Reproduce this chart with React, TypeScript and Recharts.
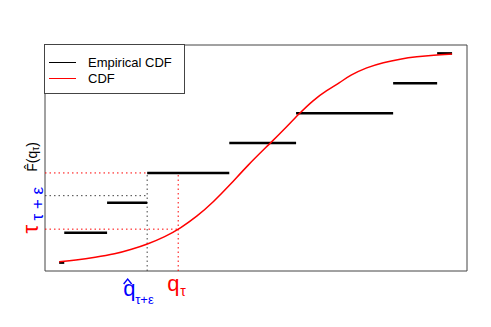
import { LineChart, Line, XAxis, YAxis, ReferenceLine, ReferenceArea } from 'recharts';

// empirical CDF: jump locations, levels are k/7
const jumpX = [0.13, 1.22, 2.24, 4.33, 6.03, 8.5, 9.62];
const ecdfStart = 0;
const ecdfEnd = 10;
const nObs = 7;

// theoretical CDF
const cdfX = [0, 0.41, 0.92, 1.42, 1.85, 2.23, 2.7, 3.08, 3.5, 3.93, 4.35, 4.78, 5.37, 5.79, 6.13, 6.47, 6.81, 7.15, 7.4, 7.83, 8.25, 8.68, 9.1, 9.53, 10];
const cdfY = [0.004, 0.012, 0.025, 0.041, 0.064, 0.087, 0.124, 0.164, 0.219, 0.291, 0.371, 0.462, 0.57, 0.649, 0.716, 0.777, 0.823, 0.861, 0.895, 0.933, 0.957, 0.973, 0.984, 0.992, 0.997];

const tau = 0.16;
const qTau = 3.03;
const tauEps = 0.32;
const qHat = 2.24;
const fHatQTau = 3 / 7;

const xDomain: [number, number] = [-0.36, 10.38];
const yDomain: [number, number] = [-0.04, 1.04];

const FONT = '"Liberation Sans", Arial, Helvetica, sans-serif';

const cdfData = cdfX.map((x, i) => ({ x, y: cdfY[i] }));
const stepBreaks = [ecdfStart, ...jumpX, ecdfEnd];
const steps = stepBreaks.slice(0, -1).map((x0, i) => ({ x0, x1: stepBreaks[i + 1], level: i / nObs }));

const dotted = '1.5 3';

function TauLabel({ viewBox }: any) {
  const cx = viewBox.x - 14;
  const cy = viewBox.y;
  return (
    <text x={cx} y={cy} transform={`rotate(-90 ${cx} ${cy})`} textAnchor="middle" dominantBaseline="central" fill="#ff0000" fontSize={22} fontFamily={FONT}>
      τ
    </text>
  );
}

function TauEpsLabel({ viewBox }: any) {
  const cx = viewBox.x - 2;
  const cy = viewBox.y + 8;
  return (
    <text x={cx} y={cy} transform={`rotate(-90 ${cx} ${cy})`} textAnchor="middle" fill="#0000ff" fontSize={17} fontFamily={FONT}>
      τ + ε
    </text>
  );
}

function FHatLabel({ viewBox }: any) {
  const cx = viewBox.x - 8;
  const cy = viewBox.y - 16;
  return (
    <text x={cx} y={cy} transform={`rotate(-90 ${cx} ${cy})`} textAnchor="middle" fill="#000" fontSize={14} fontFamily={FONT}>
      {'F\u0302(q'}
      <tspan fontSize={10} dy={2}>τ</tspan>
      <tspan dy={-2}>)</tspan>
    </text>
  );
}

function QHatLabel({ viewBox }: any) {
  const x = viewBox.x - 24;
  const base = viewBox.y + viewBox.height + 25;
  return (
    <g fontFamily={FONT} fill="#0000ff">
      <text x={x} y={base} fontSize={22}>q</text>
      <path d={`M${x + 0.5},${base - 12} L${x + 4.5},${base - 17} L${x + 8.5},${base - 12}`} fill="none" stroke="#0000ff" strokeWidth={1.4} />
      <text x={x + 12} y={base + 8} fontSize={13}>τ+ε</text>
    </g>
  );
}

function QTauLabel({ viewBox }: any) {
  const x = viewBox.x - 11;
  const base = viewBox.y + viewBox.height + 20;
  return (
    <g fontFamily={FONT} fill="#ff0000">
      <text x={x} y={base} fontSize={22}>q</text>
      <text x={x + 13} y={base + 5} fontSize={14}>τ</text>
    </g>
  );
}

export default function App() {
  return (
    <div style={{ position: 'absolute', left: 0, top: 0, width: 491, height: 327, background: '#fff' }}>
      <LineChart width={491} height={327} margin={{ top: 45, left: 45, right: 24, bottom: 56 }}>
        <XAxis type="number" dataKey="x" domain={xDomain} allowDataOverflow hide />
        <YAxis type="number" domain={yDomain} allowDataOverflow hide />
        <ReferenceArea x1={xDomain[0]} x2={xDomain[1]} y1={yDomain[0]} y2={yDomain[1]} fill="none" stroke="#444" strokeWidth={1} fillOpacity={0} ifOverflow="visible" />

        {/* tau level, up to the curve */}
        <ReferenceLine segment={[{ x: xDomain[0], y: tau }, { x: qTau, y: tau }]} stroke="#ff0000" strokeDasharray={dotted} label={(p: any) => <TauLabel {...p} />} />
        {/* Fhat(q_tau) level */}
        <ReferenceLine segment={[{ x: xDomain[0], y: fHatQTau }, { x: qTau, y: fHatQTau }]} stroke="#ff0000" strokeDasharray={dotted} label={(p: any) => <FHatLabel {...p} />} />
        <ReferenceLine segment={[{ x: qTau, y: yDomain[0] }, { x: qTau, y: fHatQTau }]} stroke="#ff0000" strokeDasharray={dotted} label={(p: any) => <QTauLabel {...p} />} />
        {/* tau + eps level and its empirical quantile */}
        <ReferenceLine segment={[{ x: xDomain[0], y: tauEps }, { x: qHat, y: tauEps }]} stroke="#444" strokeDasharray={dotted} label={(p: any) => <TauEpsLabel {...p} />} />
        <ReferenceLine segment={[{ x: qHat, y: yDomain[0] }, { x: qHat, y: fHatQTau }]} stroke="#444" strokeDasharray={dotted} label={(p: any) => <QHatLabel {...p} />} />

        {steps.map((s, i) => (
          <ReferenceLine key={i} segment={[{ x: s.x0, y: s.level }, { x: s.x1, y: s.level }]} stroke="#000" strokeWidth={2.5} />
        ))}

        <Line data={cdfData} dataKey="y" type="basis" stroke="#ff0000" strokeWidth={1.5} dot={false} activeDot={false} isAnimationActive={false} />
      </LineChart>

      <div style={{ position: 'absolute', left: 44, top: 44, width: 141, height: 50, border: '1px solid #444', background: '#fff', fontFamily: FONT, fontSize: 13, boxSizing: 'border-box' }}>
        <div style={{ position: 'absolute', left: 4, top: 17, width: 27, borderTop: '1px solid #000' }} />
        <div style={{ position: 'absolute', left: 43, top: 10, lineHeight: '15px' }}>Empirical CDF</div>
        <div style={{ position: 'absolute', left: 4, top: 33, width: 27, borderTop: '1px solid #ff0000' }} />
        <div style={{ position: 'absolute', left: 43, top: 26, lineHeight: '15px' }}>CDF</div>
      </div>
    </div>
  );
}
